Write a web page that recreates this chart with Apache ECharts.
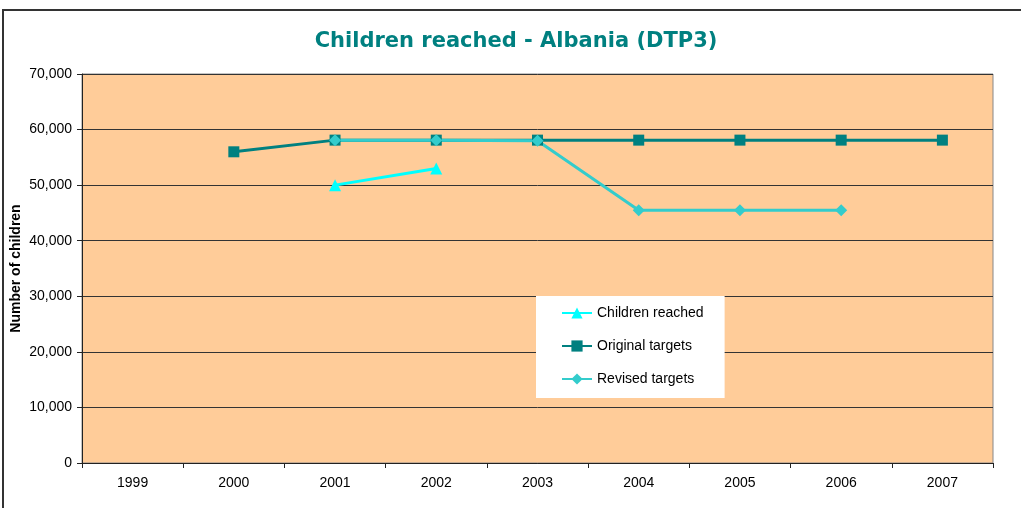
<!DOCTYPE html>
<html>
<head>
<meta charset="utf-8">
<title>Children reached - Albania (DTP3)</title>
<script src="https://cdn.jsdelivr.net/npm/echarts@6/dist/echarts.min.js"></script>
<style>
  html, body { margin: 0; padding: 0; background: #fff; }
  #chart { width: 1021px; height: 508px; }
</style>
</head>
<body>
<div id="chart"></div>
<script>
  // data
  var years = ['1999', '2000', '2001', '2002', '2003', '2004', '2005', '2006', '2007'];
  var childrenReached = [null, null, 50000, 53000, null, null, null, null, null];
  var originalTargets = [null, 56000, 58100, 58100, 58100, 58100, 58100, 58100, 58100];
  var revisedTargets = [null, null, 58100, 58100, 58000, 45500, 45500, 45500, null];

  var chart = echarts.init(document.getElementById('chart'));

  var option = {
    animation: false,
    textStyle: { fontFamily: 'Liberation Sans, Arial, sans-serif' },
    title: {
      text: 'Children reached - Albania (DTP3)',
      left: 511,
      textAlign: 'center',
      top: 26,
      textStyle: { color: '#008080', fontSize: 21, fontWeight: 'bold', fontFamily: 'DejaVu Sans, Verdana, sans-serif' }
    },
    graphic: [{
      type: 'rect',
      shape: { x: 3, y: 10, width: 1040, height: 520 },
      style: { fill: 'none', stroke: '#333', lineWidth: 2 },
      silent: true
    }],
    legend: {
      left: 536,
      top: 296,
      orient: 'vertical',
      backgroundColor: '#fff',
      padding: [10, 21, 12, 25],
      itemWidth: 30,
      itemHeight: 14,
      itemGap: 19,
      textStyle: { fontSize: 14, color: '#000' },
      data: ['Children reached', 'Original targets', 'Revised targets']
    },
    grid: {
      left: 82,
      right: 28,
      top: 74,
      bottom: 45,
      outerBoundsMode: 'none',
      containLabel: false,
      show: true,
      backgroundColor: '#FFCC99',
      borderColor: '#888',
      borderWidth: 1
    },
    xAxis: {
      type: 'category',
      data: years,
      boundaryGap: true,
      axisLine: { lineStyle: { color: '#222', width: 1 } },
      axisTick: { show: true, length: 5, lineStyle: { color: '#222' } },
      axisLabel: { color: '#000', fontSize: 14, margin: 13 }
    },
    yAxis: {
      type: 'value',
      min: 0,
      max: 70000,
      interval: 10000,
      name: 'Number of children',
      nameLocation: 'middle',
      nameRotate: 90,
      nameGap: 59,
      nameMoveOverlap: false,
      nameTextStyle: { fontWeight: 'bold', fontSize: 14, color: '#000' },
      axisLine: { show: true, lineStyle: { color: '#222', width: 1 } },
      axisTick: { show: true, length: 5, lineStyle: { color: '#222' } },
      axisLabel: {
        color: '#000',
        fontSize: 14,
        margin: 10,
        formatter: function (v) { return v.toLocaleString('en-US'); }
      },
      splitLine: { show: true, lineStyle: { color: '#333', width: 1 } }
    },
    series: [{
      name: 'Children reached',
      type: 'line',
      data: childrenReached,
      symbol: 'triangle',
      symbolSize: 12,
      connectNulls: false,
      itemStyle: { color: '#00FFFF' },
      lineStyle: { color: '#00FFFF', width: 3 }
    }, {
      name: 'Original targets',
      type: 'line',
      data: originalTargets,
      symbol: 'rect',
      symbolSize: 11,
      itemStyle: { color: '#008080' },
      lineStyle: { color: '#008080', width: 3 }
    }, {
      name: 'Revised targets',
      type: 'line',
      data: revisedTargets,
      symbol: 'diamond',
      symbolSize: 12,
      itemStyle: { color: '#33CCCC' },
      lineStyle: { color: '#33CCCC', width: 3 }
    }]
  };

  chart.setOption(option);
</script>
</body>
</html>
